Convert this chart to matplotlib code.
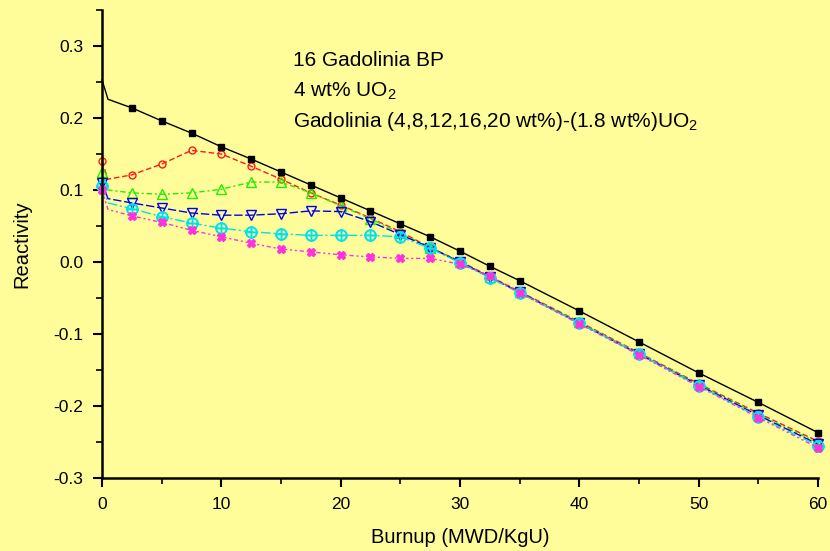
import matplotlib
matplotlib.use("Agg")
import matplotlib.pyplot as plt
from matplotlib.ticker import MultipleLocator

plt.rcParams['font.family'] = ['Liberation Sans', 'DejaVu Sans']
plt.rcParams['mathtext.fontset'] = 'custom'
plt.rcParams['mathtext.rm'] = 'Liberation Sans'

burnup = [0, 0.5, 2.5, 5, 7.5, 10, 12.5, 15, 17.5, 20, 22.5, 25, 27.5, 30, 32.5, 35, 40, 45, 50, 55, 60]

uo2_4wt   = [0.253, 0.226, 0.214, 0.196, 0.179, 0.160, 0.143, 0.125, 0.107, 0.089, 0.071, 0.053, 0.035, 0.015, -0.006, -0.026, -0.068, -0.111, -0.154, -0.195, -0.237]
gd_4wt    = [0.140, 0.115, 0.121, 0.136, 0.155, 0.150, 0.133, 0.115, 0.096, 0.079, 0.061, 0.042, 0.020, 0.001, -0.020, -0.041, -0.083, -0.126, -0.169, -0.210, -0.249]
gd_8wt    = [0.125, 0.100, 0.096, 0.094, 0.096, 0.101, 0.111, 0.111, 0.096, 0.078, 0.060, 0.040, 0.020, 0.000, -0.021, -0.042, -0.084, -0.127, -0.170, -0.212, -0.251]
gd_12wt   = [0.110, 0.088, 0.082, 0.075, 0.068, 0.065, 0.065, 0.067, 0.071, 0.070, 0.056, 0.038, 0.020, 0.000, -0.021, -0.042, -0.085, -0.128, -0.171, -0.213, -0.253]
gd_16wt   = [0.105, 0.082, 0.074, 0.063, 0.054, 0.047, 0.042, 0.039, 0.037, 0.037, 0.037, 0.035, 0.019, -0.001, -0.022, -0.043, -0.085, -0.128, -0.172, -0.215, -0.255]
gd_20wt   = [0.100, 0.073, 0.064, 0.055, 0.044, 0.035, 0.026, 0.018, 0.014, 0.010, 0.007, 0.005, 0.005, -0.003, -0.020, -0.043, -0.086, -0.129, -0.173, -0.216, -0.258]

x_ticks = [0, 10, 20, 30, 40, 50, 60]
y_ticks = [-0.3, -0.2, -0.1, 0.0, 0.1, 0.2, 0.3]
y_ticklabels = ['-0.3', '-0.2', '-0.1', '0.0', '0.1', '0.2', '0.3']

bg = '#FFFD99'
fig = plt.figure(figsize=(8.3, 5.51), dpi=100, facecolor=bg)
ax = fig.add_axes([0.1229, 0.1325, 0.8626, 0.8494], facecolor=bg)

mk_idx = [0] + list(range(2, len(burnup)))
blk_idx = list(range(2, len(burnup)))

ax.plot(burnup, uo2_4wt, color='black', lw=1.0, marker='s', ms=4.5, markevery=blk_idx, clip_on=False, zorder=6)
ax.plot(burnup, gd_4wt, color='#FF1A1A', lw=1.0, ls=(0, (4, 2)), marker='o', ms=5, mfc='none', mew=1.0, markevery=mk_idx, clip_on=False)
ax.plot(burnup, gd_8wt, color='#22EE00', lw=1.0, ls=(0, (1.5, 2, 4, 2)), marker='^', ms=7, mfc='none', mew=1.0, markevery=mk_idx, clip_on=False)
ax.plot(burnup, gd_12wt, color='#0000EE', lw=1.0, ls=(0, (6, 2)), marker='v', ms=7, mfc='none', mew=1.0, markevery=mk_idx, clip_on=False)
ax.plot(burnup, gd_16wt, color='#00E0EE', lw=1.0, ls=(0, (7, 2, 1.5, 2)), marker=r'$\oplus$', ms=8, markevery=mk_idx, clip_on=False)
ax.plot(burnup, gd_20wt, color='#FF33DD', lw=1.0, ls=(0, (3, 2, 1.5, 2, 1.5, 2)), marker='X', ms=6, mfc='#FF33DD', mec='#FF33DD', markevery=mk_idx, clip_on=False)

ax.set_xlim(0, 60)
ax.set_ylim(-0.3, 0.35)
ax.set_xticks(x_ticks)
ax.xaxis.set_minor_locator(MultipleLocator(5))
ax.set_yticks(y_ticks)
ax.set_yticklabels(y_ticklabels)
ax.yaxis.set_minor_locator(MultipleLocator(0.05))

for s in ['top', 'right']:
    ax.spines[s].set_visible(False)
for s in ['left', 'bottom']:
    ax.spines[s].set_linewidth(1.8)

ax.tick_params(which='major', direction='out', length=6.5, width=1.5, labelsize=12.5, pad=7)
ax.tick_params(which='minor', direction='out', length=4, width=1.2)

ax.set_xlabel('Burnup (MWD/KgU)', fontsize=14.5, labelpad=12)
ax.set_ylabel('Reactivity', fontsize=14.5, labelpad=16)

tx = 0.267
ax.text(tx, 0.880, '16 Gadolinia BP', transform=ax.transAxes, fontsize=15, va='baseline')
ax.text(tx, 0.816, r'4 wt% UO$_{2}$', transform=ax.transAxes, fontsize=15, va='baseline')
ax.text(tx, 0.750, r'Gadolinia (4,8,12,16,20 wt%)-(1.8 wt%)UO$_{2}$', transform=ax.transAxes, fontsize=15, va='baseline')

fig.savefig('out.png', dpi=100, facecolor=bg)
